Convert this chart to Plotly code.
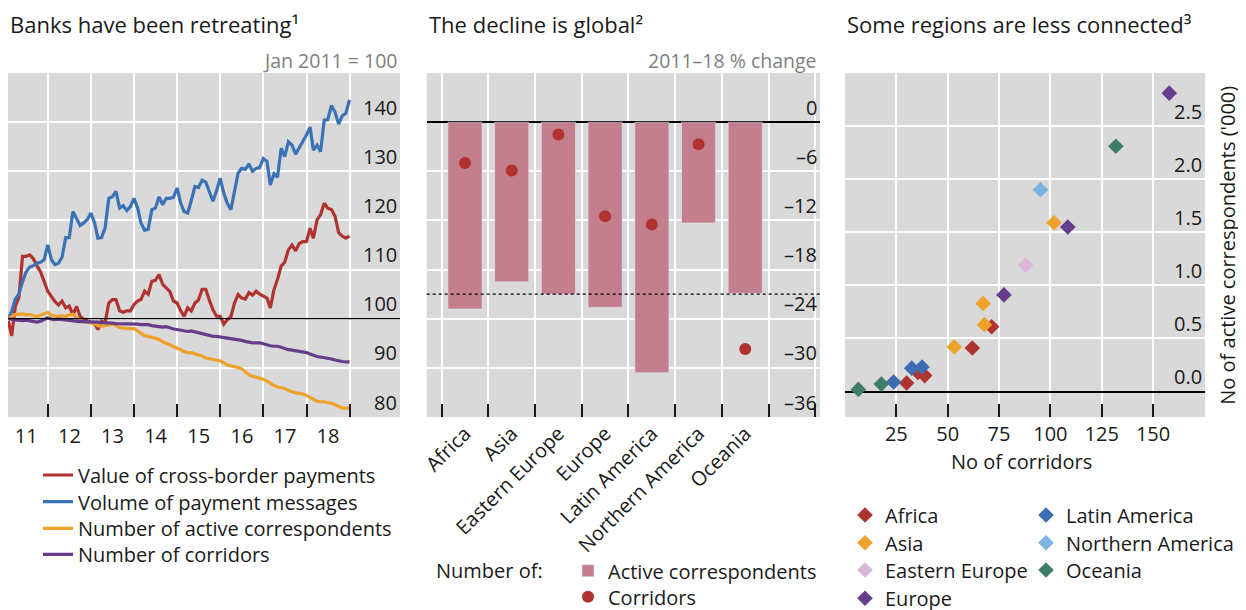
import pandas as pd
import plotly.graph_objects as go

FONT = "Open Sans"

# ---------- panel 1: monthly indices, Jan 2011 = 100 ----------
months = pd.date_range("2011-01-31", periods=96, freq="ME")

value_payments = [
    99.5, 96.5, 102.5, 104.3, 112.7, 112.7, 113.0, 112.2, 110.8, 109.5, 107.6, 105.6,
    104.5, 103.5, 102.8, 103.6, 102.2, 102.6, 100.8, 102.5, 100.5, 99.9, 99.6, 99.2,
    99.0, 97.8, 99.5, 99.2, 103.2, 103.9, 103.9, 101.6, 101.3, 101.6, 101.6, 102.9,
    103.6, 103.9, 105.6, 105.0, 107.6, 107.8, 109.0, 107.0, 106.3, 105.5, 103.6, 103.2,
    101.6, 100.5, 102.2, 101.6, 103.2, 103.8, 106.0, 106.0, 103.8, 101.8, 100.5, 100.5,
    98.9, 99.8, 100.4, 103.2, 104.9, 104.2, 104.0, 105.3, 104.8, 105.6, 105.0, 104.6,
    104.2, 102.2, 105.9, 108.0, 110.7, 111.5, 114.0, 115.0, 113.8, 115.3, 115.7, 115.7,
    118.4, 116.4, 120.1, 121.2, 123.5, 122.5, 122.2, 120.8, 117.5, 116.8, 116.4, 116.8,
]
volume_messages = [
    100.0, 101.5, 104.0, 105.0, 107.5, 109.5, 110.5, 110.8, 111.3, 111.5, 112.0, 115.0,
    112.0, 111.0, 111.3, 112.5, 116.5, 116.5, 121.8, 120.5, 119.0, 119.5, 120.2, 121.5,
    119.5, 116.4, 116.5, 118.5, 124.5, 124.8, 125.9, 122.5, 123.0, 122.0, 122.8, 124.5,
    122.5, 119.5, 118.0, 118.2, 122.2, 122.5, 124.8, 123.2, 124.5, 124.5, 124.7, 126.6,
    123.5, 121.8, 121.5, 124.0, 126.9, 126.7, 128.2, 127.8, 125.9, 123.9, 126.0, 128.6,
    125.5, 123.5, 122.2, 125.5, 129.6, 130.6, 130.4, 131.5, 130.0, 130.6, 130.8, 132.6,
    132.0, 127.2, 129.5, 128.8, 134.7, 133.0, 136.0, 135.3, 133.5, 134.8, 136.0, 137.4,
    139.0, 134.3, 135.3, 134.0, 140.4, 140.5, 143.4, 142.0, 139.6, 141.3, 141.8, 144.5,
]
active_correspondents = [
    100.0, 100.5, 100.9, 100.9, 101.0, 100.8, 100.9, 100.6, 100.5, 100.7, 101.0, 101.3,
    100.7, 100.5, 100.5, 100.6, 100.5, 100.8, 100.9, 100.3, 99.6, 99.4, 99.3, 99.2,
    99.0, 98.6, 98.5, 98.6, 98.8, 98.9, 98.6, 98.2, 98.1, 98.0, 98.0, 98.0,
    97.5, 97.0, 96.5, 96.4, 96.2, 96.0, 95.8, 95.3, 95.0, 94.7, 94.3, 94.1,
    93.7, 93.3, 93.1, 93.1, 92.9, 92.7, 92.4, 92.0, 91.8, 91.7, 91.6, 91.4,
    91.0, 90.6, 90.4, 90.3, 90.1, 89.8, 89.2, 88.6, 88.3, 88.1, 88.0, 87.7,
    87.3, 86.8, 86.4, 86.1, 85.9, 85.8, 85.4, 85.1, 84.9, 84.8, 84.7, 84.4,
    84.0, 83.6, 83.2, 83.1, 83.1, 82.9, 82.8, 82.5, 82.1, 81.8, 81.8, 81.8,
]
corridors = [
    100.0, 99.8, 99.7, 99.7, 99.6, 99.7, 99.6, 99.4, 99.3, 99.5, 99.8, 100.2,
    99.9, 99.8, 99.9, 99.8, 99.8, 99.7, 99.6, 99.5, 99.4, 99.4, 99.4, 99.3,
    99.3, 99.3, 99.2, 99.2, 99.2, 99.1, 99.0, 99.0, 98.9, 98.9, 99.0, 99.0,
    98.9, 98.8, 98.8, 98.8, 98.6, 98.5, 98.3, 98.3, 98.4, 98.1, 97.9, 97.8,
    97.7, 97.5, 97.4, 97.5, 97.3, 97.1, 96.9, 96.7, 96.5, 96.4, 96.4, 96.3,
    96.1, 96.0, 96.0, 95.9, 95.8, 95.6, 95.4, 95.2, 95.1, 95.1, 95.1, 94.9,
    94.6, 94.5, 94.4, 94.4, 94.2, 93.9, 93.7, 93.6, 93.5, 93.4, 93.3, 93.1,
    92.8, 92.5, 92.3, 92.2, 92.1, 92.0, 91.8, 91.6, 91.4, 91.3, 91.2, 91.2,
]
years = list(range(2011, 2019))
index_ticks = [80, 90, 100, 110, 120, 130, 140]

# ---------- panel 2: 2011-18 % change by region ----------
regions = ["Africa", "Asia", "Eastern Europe", "Europe",
           "Latin America", "Northern America", "Oceania"]
chg_correspondents = [-22.8, -19.5, -21.0, -22.6, -30.6, -12.3, -20.9]
chg_corridors = [-5.0, -5.9, -1.5, -11.5, -12.5, -2.7, -27.7]
chg_average = -21.0
chg_ticks = [0, -6, -12, -18, -24, -30, -36]

# ---------- panel 3: corridors vs active correspondents ('000) ----------
scatter_points = {
    "Africa": ([71.4, 62.0, 35.5, 38.8, 30.0], [0.61, 0.41, 0.18, 0.15, 0.08]),
    "Asia": ([101.8, 67.3, 67.9, 53.2], [1.59, 0.83, 0.63, 0.42]),
    "Eastern Europe": ([87.9], [1.19]),
    "Europe": ([157.9, 108.5, 77.4], [2.81, 1.55, 0.91]),
    "Latin America": ([32.5, 37.5, 23.7], [0.22, 0.23, 0.09]),
    "Northern America": ([95.2], [1.90]),
    "Oceania": ([131.9, 17.7, 6.5], [2.31, 0.07, 0.02]),
}
region_colors = {
    "Africa": "#b03330",
    "Asia": "#eea22b",
    "Eastern Europe": "#dab6da",
    "Europe": "#663d8a",
    "Latin America": "#3c6db3",
    "Northern America": "#7db3e2",
    "Oceania": "#3f7d68",
}
corr_ticks = [25, 50, 75, 100, 125, 150]
conn_ticks = [0.0, 0.5, 1.0, 1.5, 2.0, 2.5]

BG = "#d9d9d9"
INK = "#1a1a1a"
FS = 20
# the page body adds an 8px margin, so positions below are page pixels minus 8
OFF = 8
W, H = 1246 - OFF, 610


def px_x(p):
    return max(0.0, (p - OFF) / W)


def px_y(p):
    return 1 - (p - OFF) / H


fig = go.Figure()
legends = {}


def legend_at(text_left, row_center):
    # one legend box per entry, so every row sits where the reference has it
    key = "legend" if not legends else f"legend{len(legends) + 1}"
    item_h = FS * 1.3 + 3
    legends[key] = dict(x=px_x(text_left - 40), y=px_y(row_center - 5 - item_h / 2),
                        xanchor="left", yanchor="top", bgcolor="rgba(0,0,0,0)",
                        font=dict(family=FONT, size=FS, color=INK))
    return key


line_series = [
    ("Value of cross-border payments", value_payments, "#b03330"),
    ("Volume of payment messages", volume_messages, "#3b72b6"),
    ("Number of active correspondents", active_correspondents, "#eea22b"),
    ("Number of corridors", corridors, "#663d8a"),
]
for (name, vals, col), yc in zip(line_series, [475, 501.7, 528.3, 554.3]):
    fig.add_trace(go.Scatter(x=months, y=vals, name=name, mode="lines",
                             line=dict(color=col, width=3.2), showlegend=True,
                             xaxis="x", yaxis="y", legend=legend_at(78, yc)))

fig.add_trace(go.Bar(x=list(range(len(regions))), y=chg_correspondents,
                     name="Active correspondents", marker_color="#c47f8e",
                     width=0.73, xaxis="x2", yaxis="y2",
                     legend=legend_at(608, 570.7)))
fig.add_trace(go.Scatter(x=list(range(len(regions))), y=chg_corridors,
                         name="Corridors", mode="markers",
                         marker=dict(color="#b03330", size=12),
                         xaxis="x2", yaxis="y2", legend=legend_at(608, 596.7)))

legend_slots = {
    "Africa": (885, 515), "Asia": (885, 542.7), "Eastern Europe": (885, 570),
    "Europe": (885, 598.3), "Latin America": (1066, 515),
    "Northern America": (1066, 542.7), "Oceania": (1066, 570),
}
for reg in regions:
    xs, ys = scatter_points[reg]
    fig.add_trace(go.Scatter(x=xs, y=ys, name=reg, mode="markers",
                             marker=dict(symbol="diamond", size=12,
                                         color=region_colors[reg]),
                             xaxis="x3", yaxis="y3",
                             legend=legend_at(*legend_slots[reg])))

# reference lines
fig.add_shape(type="line", xref="x domain", yref="y", x0=0, x1=1, y0=100, y1=100,
              line=dict(color="black", width=1.3))
fig.add_shape(type="line", xref="x2 domain", yref="y2", x0=0, x1=1,
              y0=chg_average, y1=chg_average,
              line=dict(color="black", width=1.2, dash="3px,3px"))

tickfont = dict(family=FONT, size=FS, color=INK)
ydom = [px_y(417), px_y(73)]

common_y = dict(side="right", showticklabels=False,
                showgrid=True, gridcolor="white", gridwidth=1.5,
                showline=False, ticks="", automargin=False, domain=ydom)
minor_style = dict(showgrid=True, gridcolor="white", gridwidth=1.5,
                   ticks="inside", ticklen=13, tickcolor=INK, tickwidth=1.5)

fig.update_layout(
    width=W, height=H, showlegend=True,
    margin=dict(l=0, r=0, t=0, b=0),
    paper_bgcolor="white", plot_bgcolor=BG,
    font=dict(family=FONT, size=FS, color=INK),
    xaxis=dict(
        domain=[px_x(7.3), px_x(400)], type="date",
        range=["2011-01-28", "2020-03-03"],
        tickmode="array",
        tickvals=[f"{y}-07-02" for y in years],
        ticktext=[str(y)[2:] for y in years],
        showgrid=False, ticks="", zeroline=False, tickfont=tickfont,
        ticklabelstandoff=5, automargin=False,
        minor=dict(tickmode="array",
                   tickvals=[f"{y}-01-01" for y in range(2012, 2020)],
                   **minor_style),
    ),
    yaxis=dict(anchor="x", range=[80, 150], tickvals=index_ticks,
               zeroline=False, **common_y),
    xaxis2=dict(
        domain=[px_x(426.7), px_x(820)], anchor="y2",
        range=[-0.82, 7.6], tickmode="array",
        tickvals=list(range(len(regions))), ticktext=regions, tickangle=-45,
        showgrid=False, ticks="", zeroline=False, tickfont=tickfont,
        automargin=False,
        minor=dict(tickmode="array",
                   tickvals=[i - 0.5 for i in range(len(regions) + 2)],
                   **minor_style),
    ),
    yaxis2=dict(anchor="x2", range=[-36, 6], tickvals=chg_ticks,
                zeroline=True, zerolinecolor="black", zerolinewidth=1.5,
                **common_y),
    xaxis3=dict(
        domain=[px_x(845), px_x(1205)], anchor="y3",
        range=[0, 175.3], tickvals=corr_ticks,
        showgrid=True, gridcolor="white", gridwidth=1.5, zeroline=False,
        ticks="inside", ticklen=13, tickcolor=INK, tickwidth=1.5,
        tickfont=tickfont, ticklabelstandoff=3, automargin=False,
    ),
    yaxis3=dict(anchor="x3", range=[-0.24, 3.0], tickvals=conn_ticks,
                zeroline=True, zerolinecolor="black", zerolinewidth=1.5,
                **common_y),
)
fig.update_layout(**legends)


def right_labels(xdom, yref, vals, texts):
    # BIS style: value labels sit inside the plot, just above their gridline
    for v, t in zip(vals, texts):
        fig.add_annotation(x=1, y=v, xref=xdom, yref=yref, xanchor="right",
                           yanchor="middle", xshift=-1, yshift=15,
                           showarrow=False, text=t, font=tickfont)


right_labels("x domain", "y", index_ticks, [str(v) for v in index_ticks])
right_labels("x2 domain", "y2", chg_ticks,
             [str(v).replace("-", "\u2013") for v in chg_ticks])
right_labels("x3 domain", "y3", conn_ticks, [f"{v:.1f}" for v in conn_ticks])

titles = [
    (8, "Banks have been retreating\u00b9"),
    (427, "The decline is global\u00b2"),
    (845, "Some regions are less connected\u00b3"),
]
for x0, txt in titles:
    fig.add_annotation(x=px_x(x0), y=px_y(23.5), xref="paper", yref="paper",
                       xanchor="left", yanchor="middle", showarrow=False,
                       text=txt, font=dict(family=FONT, size=22, color=INK))

for x1, txt in [(399, "Jan 2011 = 100"), (819, "2011\u201318 % change")]:
    fig.add_annotation(x=px_x(x1), y=px_y(60), xref="paper", yref="paper",
                       xanchor="right", yanchor="middle", showarrow=False,
                       text=txt, font=dict(family=FONT, size=19.5, color="#7f7f7f"))

fig.add_annotation(x=px_x(434), y=px_y(570.7), xref="paper", yref="paper",
                   xanchor="left", yanchor="middle", showarrow=False,
                   text="Number of:", font=dict(family=FONT, size=FS, color=INK))
fig.add_annotation(x=px_x(1021), y=px_y(461.5), xref="paper", yref="paper",
                   xanchor="center", yanchor="middle", showarrow=False,
                   text="No of corridors", font=dict(family=FONT, size=FS, color=INK))
fig.add_annotation(x=px_x(1226.7), y=px_y(245), xref="paper", yref="paper",
                   xanchor="center", yanchor="middle", showarrow=False,
                   textangle=-90, text="No of active correspondents ('000)",
                   font=dict(family=FONT, size=FS, color=INK))

fig.write_html("out.html")
